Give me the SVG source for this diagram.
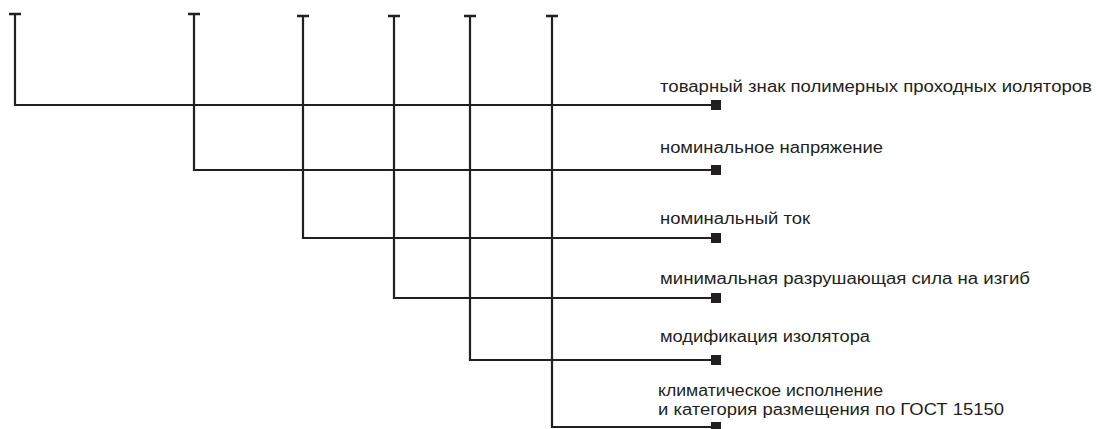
<svg xmlns="http://www.w3.org/2000/svg" width="1096" height="429" viewBox="0 0 1096 429">
<style>
.ln{fill:none;stroke:#231f20;stroke-width:2.2}
.cap{fill:none;stroke:#231f20;stroke-width:2.6}
.sq{fill:#231f20}
.lbl{font-family:"Liberation Sans","Noto Sans",sans-serif;font-size:16px;fill:#231f20}
</style>
<rect width="1096" height="429" fill="#ffffff"/>
<g id="connectors">
<path class="ln" d="M15,14 V105 H716"/>
<path class="ln" d="M194,14 V170 H716"/>
<path class="ln" d="M303,16 V238 H716"/>
<path class="ln" d="M394,16 V298 H716"/>
<path class="ln" d="M470,16 V360 H716"/>
<path class="ln" d="M552,16 V427 H716"/>
<path class="cap" d="M9,14 H21 M188,14 H200 M297,16 H309 M388,16 H400 M464,16 H476 M546,16 H558"/>
</g>
<g id="n1"><rect class="sq" x="711" y="100" width="10" height="10"/><text class="lbl" x="660" y="92" textLength="432" lengthAdjust="spacingAndGlyphs">товарный знак полимерных проходных иоляторов</text></g>
<g id="n2"><rect class="sq" x="711" y="165" width="10" height="10"/><text class="lbl" x="660" y="153" textLength="223" lengthAdjust="spacingAndGlyphs">номинальное напряжение</text></g>
<g id="n3"><rect class="sq" x="711" y="233" width="10" height="10"/><text class="lbl" x="660" y="224" textLength="150" lengthAdjust="spacingAndGlyphs">номинальный ток</text></g>
<g id="n4"><rect class="sq" x="711" y="293" width="10" height="10"/><text class="lbl" x="660" y="284" textLength="370" lengthAdjust="spacingAndGlyphs">минимальная разрушающая сила на изгиб</text></g>
<g id="n5"><rect class="sq" x="711" y="355" width="10" height="10"/><text class="lbl" x="660" y="342" textLength="210" lengthAdjust="spacingAndGlyphs">модификация изолятора</text></g>
<g id="n6"><rect class="sq" x="711" y="422" width="10" height="10"/><text class="lbl" x="658" y="396" textLength="225" lengthAdjust="spacingAndGlyphs">климатическое исполнение</text><text class="lbl" x="658" y="415" textLength="346" lengthAdjust="spacingAndGlyphs">и категория размещения по ГОСТ 15150</text></g>
</svg>
